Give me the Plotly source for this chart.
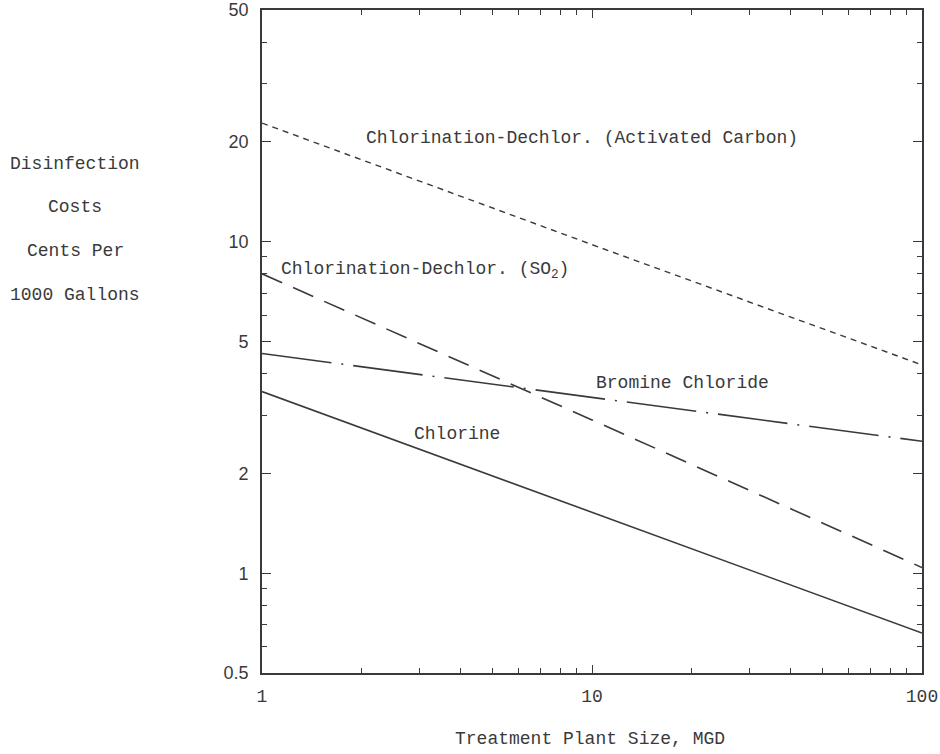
import plotly.graph_objects as go

# ---- data ----
plant_size_mgd = [1, 10, 100]
chlorine = [3.53, 1.53, 0.66]
bromine_chloride = [4.6, 3.4, 2.5]
dechlor_so2 = [8.0, 2.9, 1.04]
dechlor_activated_carbon = [22.8, 9.8, 4.25]

y_tickvals = [0.5, 1, 2, 5, 10, 20, 50]
y_ticktext = ["0.5", "1", "2", "5", "10", "20", "50"]
y_minor = [0.6, 0.7, 0.8, 0.9, 3, 4, 6, 7, 8, 9, 30, 40]
x_tickvals = [1, 10, 100]
x_ticktext = ["1", "10", "100"]
x_minor = [2, 3, 4, 5, 6, 7, 8, 9, 20, 30, 40, 50, 60, 70, 80, 90]

INK = "#3a3a3a"
MONO = "Liberation Mono, Courier New, monospace"
SANS = "Liberation Sans, Arial, sans-serif"

W, H = 940, 754
L, R, T, B = 262, 18, 10, 754 - 672.6
PW, PH = W - L - R, H - T - B

fig = go.Figure()
fig.add_trace(go.Scatter(x=plant_size_mgd, y=dechlor_activated_carbon, mode="lines",
                         line=dict(color=INK, width=1.4, dash="6px,5px"), name="AC"))
fig.add_trace(go.Scatter(x=plant_size_mgd, y=dechlor_so2, mode="lines",
                         line=dict(color=INK, width=1.6, dash="22px,12px"), name="SO2"))
fig.add_trace(go.Scatter(x=plant_size_mgd, y=bromine_chloride, mode="lines",
                         line=dict(color=INK, width=1.6, dash="70px,10px,2px,10px"), name="BrCl"))
fig.add_trace(go.Scatter(x=plant_size_mgd, y=chlorine, mode="lines",
                         line=dict(color=INK, width=1.6), name="Chlorine"))

ann = dict(showarrow=False, font=dict(family=MONO, size=18, color=INK))
fig.add_annotation(x=0.97, y=1.312, text="Chlorination-Dechlor. (Activated Carbon)",
                   xanchor="center", yanchor="middle", **ann)
fig.add_annotation(x=0.05, y=0.912, text="Chlorination-Dechlor. (SO<sub>2</sub>)",
                   xanchor="left", yanchor="middle", **ann)
fig.add_annotation(x=1.273, y=0.575, text="Bromine Chloride",
                   xanchor="center", yanchor="middle", **ann)
fig.add_annotation(x=0.591, y=0.421, text="Chlorine",
                   xanchor="center", yanchor="middle", **ann)


def px_to_paper(xpx, ypx):
    return (xpx - L) / PW, (H - B - ypx) / PH


# y axis title lines (left)
for txt, ypx in [("Disinfection", 164), ("Costs", 207), ("Cents Per", 251), ("1000 Gallons", 295)]:
    px, py = px_to_paper(75, ypx)
    fig.add_annotation(xref="paper", yref="paper", x=px, y=py,
                       text=txt, xanchor="center", yanchor="middle", **ann)
# x axis title
px, py = px_to_paper(590, 739)
fig.add_annotation(xref="paper", yref="paper", x=px, y=py,
                   text="Treatment Plant Size, MGD", xanchor="center", yanchor="middle", **ann)

fig.update_xaxes(type="log", range=[0, 2], tickvals=x_tickvals, ticktext=x_ticktext,
                 ticks="inside", ticklen=8, tickwidth=1.2, tickcolor=INK,
                 showline=True, linecolor=INK, linewidth=1.6, mirror="ticks",
                 showgrid=False, zeroline=False, ticklabelstandoff=6, automargin=False,
                 ticklabeloverflow="allow",
                 tickfont=dict(family=MONO, size=18, color=INK),
                 minor=dict(tickvals=x_minor, ticks="inside", ticklen=5, tickwidth=1.1,
                            tickcolor=INK, showgrid=False))
fig.update_yaxes(type="log", range=[-0.30103, 1.69897], tickvals=y_tickvals, ticktext=y_ticktext,
                 ticks="inside", ticklen=9, tickwidth=1.2, tickcolor=INK,
                 showline=True, linecolor=INK, linewidth=1.6, mirror="ticks",
                 showgrid=False, zeroline=False, ticklabelstandoff=8, automargin=False,
                 ticklabeloverflow="allow",
                 tickfont=dict(family=SANS, size=18, color=INK),
                 minor=dict(tickvals=y_minor, ticks="inside", ticklen=5, tickwidth=1.1,
                            tickcolor=INK, showgrid=False))

fig.update_layout(width=W, height=H, showlegend=False,
                  margin=dict(l=L, r=R, t=T, b=B, autoexpand=False),
                  paper_bgcolor="white", plot_bgcolor="white")

# remove the browser's default 8px body margin so the figure fills the window
fig.write_html("out.html", config={"displayModeBar": False},
               post_script="document.body.style.margin='0';document.body.style.overflow='hidden';")
